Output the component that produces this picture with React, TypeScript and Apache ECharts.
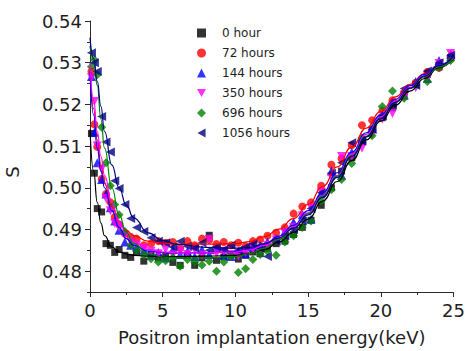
import React, { useEffect, useRef } from "react";
import * as echarts from "echarts";

const seriesNames = ["0 hour", "72 hours", "144 hours", "350 hours", "696 hours", "1056 hours"];
const seriesColors = ["#000000", "#ff0000", "#0000ff", "#ff00ff", "#008000", "#000080"];
const seriesSymbols = [
  "rect",
  "circle",
  "triangle",
  "path://M0,0L10,0L5,9Z",
  "diamond",
  "path://M0,5L9,0L9,10Z",
];
const symbolSizes = [7, 8, 9, 9, 9, 9];

const energies = [
  0.1, 0.3, 0.5, 0.8, 1.1, 1.4, 1.7, 2.0, 2.4, 2.8, 3.2, 3.7, 4.2, 4.7, 5.2, 5.7, 6.2, 6.7, 7.2, 7.7,
  8.2, 8.7, 9.2, 9.7, 10.2, 10.7, 11.2, 11.7, 12.2, 12.8, 13.4, 14.0, 14.6, 15.2, 15.9, 16.6, 17.3,
  18.0, 18.7, 19.4, 20.1, 20.8, 21.6, 22.4, 23.2, 24.0, 24.8,
];

const s0h = [
  0.5130, 0.5035, 0.4950, 0.4942, 0.4866, 0.4862, 0.4845, 0.4852, 0.4838, 0.4833,
  0.4845, 0.4824, 0.4840, 0.4832, 0.4836, 0.4821, 0.4814, 0.4838, 0.4814, 0.4832,
  0.4886, 0.4826, 0.4834, 0.4840, 0.4829, 0.4838, 0.4846, 0.4842, 0.4855, 0.4866,
  0.4872, 0.4888, 0.4905, 0.4922, 0.4958, 0.5000, 0.5040, 0.5072, 0.5110, 0.5140,
  0.5168, 0.5192, 0.5225, 0.5248, 0.5272, 0.5290, 0.5312,
];
const s72h = [
  0.5279, 0.5152, 0.5098, 0.5021, 0.4985, 0.4965, 0.4930, 0.4912, 0.4890, 0.4882,
  0.4878, 0.4862, 0.4866, 0.4872, 0.4868, 0.4870, 0.4855, 0.4872, 0.4862, 0.4878,
  0.4875, 0.4865, 0.4870, 0.4862, 0.4868, 0.4860, 0.4872, 0.4876, 0.4885, 0.4892,
  0.4905, 0.4938, 0.4955, 0.4965, 0.5005, 0.5055, 0.5070, 0.5102, 0.5150, 0.5162,
  0.5185, 0.5210, 0.5228, 0.5252, 0.5278, 0.5288, 0.5315,
];
const s144h = [
  0.5267, 0.5133, 0.5060, 0.5020, 0.4985, 0.4952, 0.4920, 0.4898, 0.4870, 0.4862,
  0.4858, 0.4850, 0.4838, 0.4845, 0.4832, 0.4852, 0.4840, 0.4848, 0.4835, 0.4852,
  0.4840, 0.4855, 0.4838, 0.4835, 0.4848, 0.4842, 0.4858, 0.4862, 0.4870, 0.4878,
  0.4895, 0.4918, 0.4935, 0.4925, 0.4985, 0.5040, 0.5030, 0.5085, 0.5118, 0.5142,
  0.5175, 0.5205, 0.5222, 0.5255, 0.5262, 0.5305, 0.5320,
];
const s350h = [
  0.5264, 0.5207, 0.5100, 0.5045, 0.4974, 0.4945, 0.4915, 0.4905, 0.4885, 0.4870,
  0.4862, 0.4855, 0.4848, 0.4842, 0.4852, 0.4838, 0.4848, 0.4840, 0.4850, 0.4838,
  0.4876, 0.4842, 0.4848, 0.4840, 0.4836, 0.4845, 0.4852, 0.4848, 0.4862, 0.4875,
  0.4892, 0.4905, 0.4932, 0.4952, 0.4990, 0.5025, 0.5075, 0.5075, 0.5095, 0.5128,
  0.5165, 0.5178, 0.5218, 0.5240, 0.5262, 0.5298, 0.5322,
];
const s696h = [
  0.5290, 0.5307, 0.5271, 0.5145, 0.5060, 0.5005, 0.4960, 0.4935, 0.4895, 0.4862,
  0.4850, 0.4838, 0.4830, 0.4822, 0.4825, 0.4832, 0.4812, 0.4828, 0.4822, 0.4815,
  0.4824, 0.4800, 0.4822, 0.4835, 0.4797, 0.4806, 0.4828, 0.4840, 0.4848, 0.4838,
  0.4870, 0.4885, 0.4905, 0.4920, 0.4968, 0.4995, 0.5020, 0.5058, 0.5120, 0.5125,
  0.5195, 0.5232, 0.5215, 0.5248, 0.5255, 0.5288, 0.5305,
];
const s1056h = [
  0.5324, 0.5300, 0.5279, 0.5171, 0.5110, 0.5086, 0.5017, 0.4998, 0.4960, 0.4926,
  0.4905, 0.4895, 0.4880, 0.4872, 0.4868, 0.4858, 0.4872, 0.4860, 0.4855, 0.4868,
  0.4850, 0.4858, 0.4852, 0.4862, 0.4850, 0.4858, 0.4865, 0.4855, 0.4835, 0.4872,
  0.4885, 0.4900, 0.4920, 0.4950, 0.4988, 0.5035, 0.5060, 0.5108, 0.5112, 0.5140,
  0.5172, 0.5200, 0.5238, 0.5245, 0.5280, 0.5300, 0.5318,
];

const fitEnergies = [
  0, 0.25, 0.5, 0.75, 1, 1.5, 2, 2.5, 3, 4, 5, 6, 8, 10, 11, 12, 13, 14, 15, 16, 17, 18, 19, 20,
  21, 22, 23, 24, 25,
];
const fit0h = [
  0.514, 0.504, 0.4965, 0.4915, 0.4885, 0.4858, 0.4846, 0.4841, 0.4838, 0.4836,
  0.4835, 0.4835, 0.4836, 0.4838, 0.4842, 0.4852, 0.487, 0.4893, 0.4925, 0.4968,
  0.5015, 0.5065, 0.5115, 0.516, 0.5198, 0.5232, 0.5262, 0.5288, 0.531,
];
const fit72h = [
  0.529, 0.519, 0.5115, 0.5055, 0.501, 0.4955, 0.492, 0.4898, 0.4885, 0.4872,
  0.4867, 0.4865, 0.4865, 0.4866, 0.4871, 0.4883, 0.4901, 0.4926, 0.496, 0.5003,
  0.505, 0.5098, 0.5143, 0.5183, 0.5218, 0.5248, 0.5273, 0.5294, 0.5312,
];
const fit144h = [
  0.528, 0.5175, 0.5095, 0.504, 0.5, 0.4945, 0.4905, 0.4878, 0.4862, 0.4848,
  0.4845, 0.4844, 0.4844, 0.4847, 0.4853, 0.4865, 0.4884, 0.491, 0.4945, 0.4988,
  0.5036, 0.5085, 0.5132, 0.5175, 0.5212, 0.5245, 0.5272, 0.5295, 0.5315,
];
const fit350h = [
  0.53, 0.521, 0.5135, 0.5075, 0.503, 0.4965, 0.492, 0.489, 0.487, 0.4852,
  0.4846, 0.4844, 0.4844, 0.4846, 0.4851, 0.4862, 0.488, 0.4906, 0.494, 0.4982,
  0.503, 0.508, 0.5128, 0.517, 0.5208, 0.5241, 0.5269, 0.5293, 0.5313,
];
const fit696h = [
  0.534, 0.5305, 0.5245, 0.5165, 0.5095, 0.5, 0.4935, 0.4893, 0.4866, 0.4842,
  0.4834, 0.4832, 0.4832, 0.4835, 0.4842, 0.4855, 0.4876, 0.4903, 0.4938, 0.498,
  0.5028, 0.5077, 0.5124, 0.5167, 0.5205, 0.5238, 0.5266, 0.529, 0.531,
];
const fit1056h = [
  0.536, 0.531, 0.5255, 0.5195, 0.5135, 0.5055, 0.5, 0.4958, 0.4928, 0.4892,
  0.4874, 0.4864, 0.4857, 0.4855, 0.4857, 0.4866, 0.488, 0.4903, 0.4935, 0.4977,
  0.5025, 0.5075, 0.5122, 0.5166, 0.5205, 0.5239, 0.5268, 0.5293, 0.5315,
];

const yTickLabels = [0.48, 0.49, 0.5, 0.51, 0.52, 0.53, 0.54];
const yMinorTicks = [0.475, 0.485, 0.495, 0.505, 0.515, 0.525, 0.535];

const scatterValues = [s0h, s72h, s144h, s350h, s696h, s1056h];
const fitValues = [fit0h, fit72h, fit144h, fit350h, fit696h, fit1056h];

const FONT = "DejaVu Sans";
const TEXT = "#1e1e1e";
const AXIS = "#2a2a2a";

export default function App() {
  const ref = useRef<HTMLDivElement>(null);
  useEffect(() => {
    if (!ref.current) return;
    const chart = echarts.init(ref.current, undefined, { renderer: "svg" });
    const scatterSeries = scatterValues.map((vals, i) => ({
      name: seriesNames[i],
      type: "scatter",
      data: energies.map((e, j) => [e, vals[j]]),
      symbol: seriesSymbols[i],
      symbolSize: symbolSizes[i],
      itemStyle: { color: seriesColors[i] },
      z: 2 + i,
    }));
    const fitSeries = fitValues.map((vals, i) => ({
      name: seriesNames[i] + " fit",
      type: "line",
      data: fitEnergies.map((e, j) => [e, vals[j]]),
      smooth: 0.5,
      smoothMonotone: "x",
      showSymbol: false,
      symbol: "none",
      lineStyle: { color: seriesColors[i], width: 1.2 },
      itemStyle: { color: seriesColors[i] },
      z: 10 + i,
    }));
    chart.setOption({
      animation: false,
      backgroundColor: "#ffffff",
      textStyle: { fontFamily: FONT },
      grid: { left: 90, right: 9, top: 21, bottom: 57, containLabel: false },
      legend: {
        data: seriesNames.map((n, i) => ({ name: n, icon: seriesSymbols[i] })),
        orient: "vertical",
        left: 197,
        top: 27,
        padding: 0,
        itemWidth: 9,
        itemHeight: 9,
        itemGap: 8,
        selectedMode: false,
        textStyle: {
          fontFamily: FONT,
          fontSize: 12,
          lineHeight: 12,
          color: TEXT,
          padding: [0, 0, 0, 11],
        },
      },
      xAxis: {
        type: "value",
        min: 0,
        max: 25,
        interval: 5,
        name: "Positron implantation energy(keV)",
        nameLocation: "middle",
        nameGap: 36,
        nameTextStyle: { fontFamily: FONT, fontSize: 18, color: TEXT },
        axisLine: { show: true, lineStyle: { color: AXIS, width: 1 } },
        axisTick: { show: true, length: 5, inside: false, lineStyle: { color: AXIS } },
        minorTick: { show: true, splitNumber: 2, length: 3, lineStyle: { color: AXIS } },
        axisLabel: { fontFamily: FONT, fontSize: 18, color: TEXT, margin: 9 },
        splitLine: { show: false },
        minorSplitLine: { show: false },
      },
      yAxis: [
        {
          type: "value",
          min: 0.475,
          max: 0.54,
          axisLine: { show: true, onZero: false, lineStyle: { color: AXIS, width: 1 } },
          axisTick: { show: true, length: 5, customValues: yTickLabels, lineStyle: { color: AXIS } },
          axisLabel: {
            fontFamily: FONT,
            fontSize: 18,
            color: TEXT,
            margin: 8,
            customValues: yTickLabels,
            formatter: (v: number) => v.toFixed(2),
          },
          splitLine: { show: false },
        },
        {
          type: "value",
          min: 0.475,
          max: 0.54,
          position: "left",
          axisLine: { show: false },
          axisTick: { show: true, length: 3, customValues: yMinorTicks, lineStyle: { color: AXIS } },
          axisLabel: { show: false },
          splitLine: { show: false },
        },
      ],
      graphic: [
        {
          type: "text",
          x: 12,
          y: 172,
          rotation: Math.PI / 2,
          style: {
            text: "S",
            fontFamily: FONT,
            fontSize: 18,
            fill: TEXT,
            align: "center",
            verticalAlign: "middle",
          },
        },
      ],
      series: [...scatterSeries, ...fitSeries],
    });
    return () => chart.dispose();
  }, []);
  return (
    <div
      ref={ref}
      style={{ position: "absolute", left: 0, top: 0, width: 468, height: 351 }}
    />
  );
}
